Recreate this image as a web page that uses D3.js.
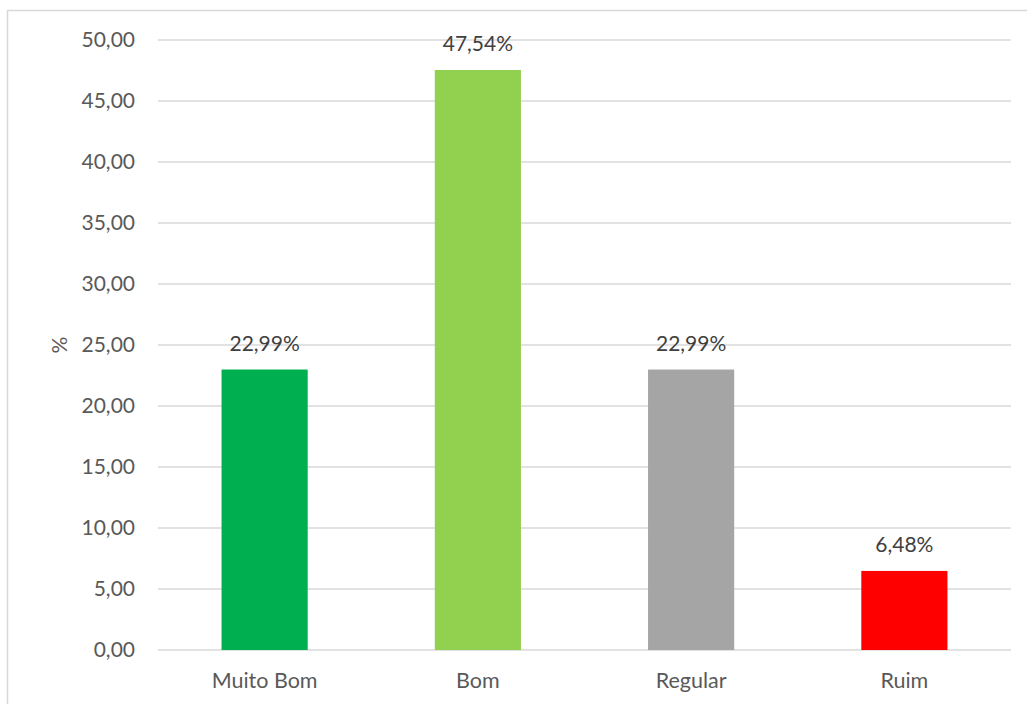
<!DOCTYPE html>
<html><head><meta charset="utf-8">
<script src="https://cdn.jsdelivr.net/npm/d3@7"></script>
<style>body{margin:0;background:#fff;}svg{display:block;font-family:Lato,"Open Sans",sans-serif;}</style>
</head><body><svg id="c" width="1027" height="704"></svg>
<script>
const categories = ["Muito Bom","Bom","Regular","Ruim"];
const values = [22.99,47.54,22.99,6.48];
const colors = ["#00B050","#92D050","#A5A5A5","#FF0000"];
const yTicks = [0,5,10,15,20,25,30,35,40,45,50];
const fmt = v => v.toFixed(2).replace(".", ",");
const svg = d3.select("#c");
// outer chart border
svg.append("rect").attr("x",7.5).attr("y",10.5).attr("width",1030).attr("height",710)
  .attr("fill","none").attr("stroke","#D9D9D9").attr("stroke-width",1.5);
const x = d3.scaleBand().domain(categories).range([158,1011]).paddingInner(0.596).paddingOuter(0.298);
const y = d3.scaleLinear().domain([0,50]).range([650,40]);
const g = svg.append("g");
g.selectAll("line.grid").data(yTicks).join("line").attr("class","grid")
  .attr("x1",158).attr("x2",1011).attr("y1",d=>y(d)).attr("y2",d=>y(d))
  .attr("stroke","#D9D9D9").attr("stroke-width",1.5);
g.selectAll("text.yt").data(yTicks).join("text").attr("class","yt")
  .attr("x",135).attr("y",d=>y(d)).attr("dy","0.35em").attr("text-anchor","end")
  .attr("fill","#595959").attr("font-size",21).text(d=>fmt(d));
g.selectAll("rect.bar").data(values).join("rect").attr("class","bar")
  .attr("x",(d,i)=>x(categories[i])).attr("width",x.bandwidth())
  .attr("y",d=>y(d)).attr("height",d=>y(0)-y(d)).attr("fill",(d,i)=>colors[i]);
g.selectAll("text.lab").data(values).join("text").attr("class","lab")
  .attr("x",(d,i)=>x(categories[i])+x.bandwidth()/2).attr("y",d=>y(d)-19)
  .attr("text-anchor","middle").attr("fill","#404040").attr("font-size",21)
  .text(d=>fmt(d)+"%");
g.selectAll("text.cat").data(categories).join("text").attr("class","cat")
  .attr("x",d=>x(d)+x.bandwidth()/2).attr("y",688)
  .attr("text-anchor","middle").attr("fill","#595959").attr("font-size",21.5).text(d=>d);
svg.append("text").attr("transform","translate(67,345) rotate(-90)")
  .attr("text-anchor","middle").attr("fill","#595959").attr("font-size",21).text("%");
</script></body></html>
